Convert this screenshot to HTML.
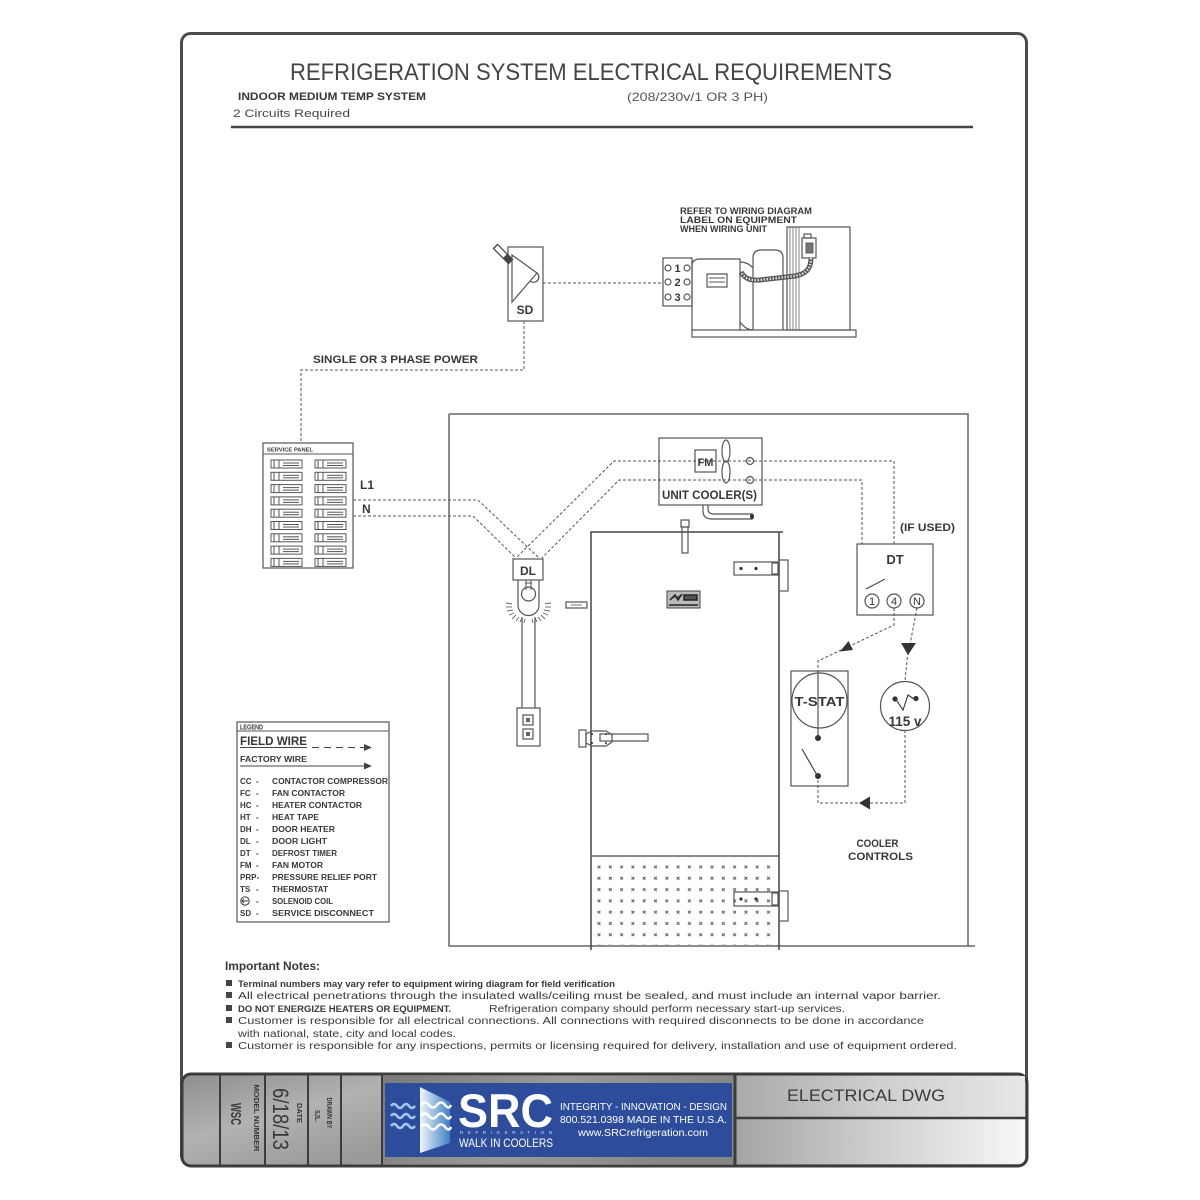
<!DOCTYPE html>
<html><head><meta charset="utf-8"><style>
html,body{margin:0;padding:0;background:#fff;}
svg{display:block;}
text{font-family:"Liberation Sans",Arial,sans-serif;}
.b{font-weight:bold;fill:#383838;}
.w{fill:none;stroke:#555;stroke-width:1;stroke-dasharray:3 2;}
.s{fill:none;stroke:#555;stroke-width:1.2;}
.n{fill:#3a3a3a;}
</style></head><body>
<svg width="1200" height="1200" viewBox="0 0 1200 1200" xmlns="http://www.w3.org/2000/svg">
<defs>
 <linearGradient id="metalL" x1="0" y1="0" x2="1" y2="0.4">
  <stop offset="0" stop-color="#8e8e8e"/><stop offset="0.25" stop-color="#b2b2b2"/>
  <stop offset="0.5" stop-color="#999"/><stop offset="0.75" stop-color="#b8b8b8"/><stop offset="1" stop-color="#a2a2a2"/>
 </linearGradient>
 <linearGradient id="metalD" x1="0" y1="0" x2="1" y2="0.2">
  <stop offset="0" stop-color="#7a7a7a"/><stop offset="0.5" stop-color="#9a9a9a"/><stop offset="1" stop-color="#858585"/>
 </linearGradient>
 <linearGradient id="metalR1" x1="0" y1="0" x2="1" y2="0">
  <stop offset="0" stop-color="#a9a9a9"/><stop offset="0.5" stop-color="#cfcfcf"/><stop offset="1" stop-color="#e6e6e6"/>
 </linearGradient>
 <linearGradient id="metalR2" x1="0" y1="0" x2="1" y2="0">
  <stop offset="0" stop-color="#a4a4a4"/><stop offset="0.5" stop-color="#d0d0d0"/><stop offset="1" stop-color="#f7f7f7"/>
 </linearGradient>
 <linearGradient id="pane" x1="0" y1="0" x2="1" y2="0">
  <stop offset="0" stop-color="#f0f6fc"/><stop offset="1" stop-color="#3f7fc4"/>
 </linearGradient>
 <pattern id="xp" patternUnits="userSpaceOnUse" x="593.3" y="861.3" width="11.3" height="11.3">
  <path d="M4.3 4.3 L7.1 7.1 M7.1 4.3 L4.3 7.1" stroke="#555" stroke-width="0.9"/>
 </pattern>
</defs>

<!-- page frame -->
<rect x="181.5" y="33.5" width="845" height="1131" rx="9" fill="#fff" stroke="#4d4d4d" stroke-width="3"/>

<!-- header -->
<text x="290" y="80" font-size="24" fill="#454545" textLength="602" lengthAdjust="spacingAndGlyphs">REFRIGERATION SYSTEM ELECTRICAL REQUIREMENTS</text>
<text x="238" y="100" font-size="11" class="b" textLength="188" lengthAdjust="spacingAndGlyphs">INDOOR MEDIUM TEMP SYSTEM</text>
<text x="627" y="101" font-size="12" fill="#555" textLength="141" lengthAdjust="spacingAndGlyphs">(208/230v/1 OR 3 PH)</text>
<text x="233" y="117" font-size="11" fill="#444" textLength="117" lengthAdjust="spacingAndGlyphs">2 Circuits Required</text>
<line x1="231" y1="127" x2="973" y2="127" stroke="#444" stroke-width="2.5"/>

<!-- SD switch -->
<rect x="508" y="247" width="35" height="74" class="s" fill="#fff"/>
<path d="M512 255 L537 273 L512 302 Z" class="s"/>
<path d="M530 281 A5 5 0 0 0 537 273" class="s"/>
<line x1="495" y1="246" x2="511" y2="262" stroke="#444" stroke-width="7"/>
<line x1="496" y1="247" x2="505" y2="256" stroke="#fff" stroke-width="4.5"/>
<text x="525" y="314" font-size="12" class="b" text-anchor="middle">SD</text>
<path d="M543 283 L663 283" class="w"/>
<path d="M524 321 L524 370 L301 370 L301 443" class="w"/>
<text x="313" y="363" font-size="11" class="b" textLength="165" lengthAdjust="spacingAndGlyphs">SINGLE OR 3 PHASE POWER</text>

<!-- condensing unit -->
<text x="680" y="214" font-size="9" class="b" textLength="132" lengthAdjust="spacingAndGlyphs">REFER TO WIRING DIAGRAM</text>
<text x="680" y="223" font-size="9" class="b" textLength="117" lengthAdjust="spacingAndGlyphs">LABEL ON EQUIPMENT</text>
<text x="680" y="232" font-size="9" class="b" textLength="87" lengthAdjust="spacingAndGlyphs">WHEN WIRING UNIT</text>
<rect x="663" y="258" width="29" height="48" class="s" fill="#fff"/>
<g class="s"><circle cx="668" cy="268" r="3"/><circle cx="687" cy="268" r="3"/><circle cx="668" cy="282" r="3"/><circle cx="687" cy="282" r="3"/><circle cx="668" cy="297" r="3"/><circle cx="687" cy="297" r="3"/></g>
<g font-size="11" class="b" text-anchor="middle"><text x="677.5" y="272">1</text><text x="677.5" y="286">2</text><text x="677.5" y="301">3</text></g>
<rect x="692" y="330" width="164" height="7" class="s"/>
<path d="M692 330 L692 266 Q692 259 700 259 L740 259 L740 330" class="s" fill="#fff"/>
<path d="M740 262 Q748 262 753 268 M740 322 Q746 330 753 330" class="s"/>
<rect x="707" y="274" width="20" height="13" class="s"/>
<line x1="709" y1="278" x2="725" y2="278" stroke="#555"/><line x1="709" y1="282" x2="725" y2="282" stroke="#555"/>
<path d="M753 330 L753 258 Q753 250 761 250 L775 250 Q783 250 783 258 L783 330" class="s" fill="#fff"/>
<rect x="787" y="227" width="63" height="103" class="s" fill="#fff"/>
<g stroke="#666" stroke-width="0.8"><line x1="790" y1="227" x2="790" y2="330"/><line x1="793" y1="227" x2="793" y2="330"/><line x1="796" y1="227" x2="796" y2="330"/><line x1="799" y1="227" x2="799" y2="330"/></g>
<rect x="802" y="238" width="14" height="20" class="s" fill="#fff"/>
<rect x="804" y="234" width="7" height="4" class="s"/>
<rect x="806" y="243" width="7" height="10" fill="#777" stroke="#444" stroke-width="0.8"/>
<path d="M811 258 C811 270 805 274 795 276 L760 280 C748 281 744 277 741 272" fill="none" stroke="#555" stroke-width="5"/>
<path d="M811 258 C811 270 805 274 795 276 L760 280 C748 281 744 277 741 272" fill="none" stroke="#ddd" stroke-width="2.5" stroke-dasharray="1.5 1.5"/>

<!-- service panel -->
<rect x="263" y="443" width="90" height="125" class="s" fill="#fff"/>
<line x1="263" y1="454" x2="353" y2="454" stroke="#555"/>
<text x="267" y="451.5" font-size="5" class="b" textLength="46" lengthAdjust="spacingAndGlyphs">SERVICE PANEL</text>
<g id="brk" stroke="#555" stroke-width="1" fill="none">
 <rect x="271" y="460" width="31" height="8"/><line x1="279" y1="460" x2="279" y2="468"/><line x1="274" y1="460" x2="274" y2="468"/><line x1="283" y1="463" x2="299" y2="463"/><line x1="283" y1="465.5" x2="299" y2="465.5"/>
 <rect x="315" y="460" width="31" height="8"/><line x1="323" y1="460" x2="323" y2="468"/><line x1="318" y1="460" x2="318" y2="468"/><line x1="327" y1="463" x2="343" y2="463"/><line x1="327" y1="465.5" x2="343" y2="465.5"/>
</g>
<use href="#brk" y="12.3"/><use href="#brk" y="24.6"/><use href="#brk" y="36.9"/><use href="#brk" y="49.2"/>
<use href="#brk" y="61.5"/><use href="#brk" y="73.8"/><use href="#brk" y="86.1"/><use href="#brk" y="98.4"/>
<text x="360" y="489" font-size="12" class="b">L1</text>
<text x="362" y="513" font-size="12" class="b">N</text>

<!-- wall box -->
<path d="M449 414 L968 414 L968 946 M449 414 L449 946 L975 946" fill="none" stroke="#666" stroke-width="1.5"/>

<!-- field wires to DL / cooler -->
<path d="M353 500 L478 500 L539 558" class="w"/>
<path d="M353 516 L473 516 L516 558" class="w"/>
<path d="M751 461 L614 461 L516 558" class="w"/>
<path d="M751 480 L619 480 L542 558" class="w"/>
<path d="M754 461 L894 461 L894 544" class="w"/>
<path d="M754 480 L862 480 L862 544" class="w"/>

<!-- unit cooler -->
<rect x="659" y="438" width="103" height="67" class="s"/>
<rect x="695" y="450" width="21" height="22" class="s"/>
<text x="705.5" y="466" font-size="11" class="b" text-anchor="middle">FM</text>
<ellipse cx="726" cy="451" rx="4" ry="11" class="s"/>
<ellipse cx="726" cy="472" rx="4" ry="11" class="s"/>
<circle cx="750" cy="461" r="3.5" class="s" fill="#fff"/>
<circle cx="750" cy="480" r="3.5" class="s" fill="#fff"/>
<text x="662" y="499" font-size="12" class="b" textLength="95" lengthAdjust="spacingAndGlyphs">UNIT COOLER(S)</text>
<path d="M703 505 L703 511 Q703 519 712 519 L752 519 M708 505 L708 509 Q708 514 714 514 L752 514" class="s"/>
<ellipse cx="752" cy="516.5" rx="2" ry="3" fill="#333"/>

<!-- DT -->
<text x="900" y="531" font-size="11" class="b" textLength="55" lengthAdjust="spacingAndGlyphs">(IF USED)</text>
<rect x="857" y="544" width="76" height="71" class="s" fill="#fff"/>
<text x="895" y="564" font-size="13" class="b" text-anchor="middle">DT</text>
<line x1="866" y1="589" x2="885" y2="579" stroke="#444"/>
<g class="s"><circle cx="872" cy="601" r="7"/><circle cx="894" cy="601" r="7"/><circle cx="917" cy="601" r="7"/></g>
<g font-size="11" fill="#333" text-anchor="middle"><text x="872" y="605">1</text><text x="894" y="605">4</text><text x="917" y="605">N</text></g>
<path d="M894 608 L894 625 L818 661 L818 671" class="w"/>
<path d="M917 608 L907 660 L905 681" class="w"/>
<path d="M840 651.5 L853 650 L848.5 641 Z" fill="#333"/>
<path d="M908 655 L901 643 L916 643 Z" fill="#333"/>
<path d="M905 730 L905 803 L818 803 L818 777" class="w"/>
<path d="M859 803 L870 796.5 L870 809.5 Z" fill="#333"/>

<!-- T-STAT -->
<rect x="791" y="671" width="57" height="115" class="s"/>
<circle cx="819.5" cy="700.5" r="27.5" class="s"/>
<line x1="818" y1="671" x2="818" y2="738" stroke="#555" stroke-width="1.2"/>
<text x="819.5" y="706" font-size="13" class="b" text-anchor="middle" textLength="50" lengthAdjust="spacingAndGlyphs">T-STAT</text>
<circle cx="818" cy="738" r="3" fill="#333"/>
<circle cx="818" cy="776" r="3" fill="#333"/>
<line x1="802" y1="749" x2="817" y2="775" stroke="#444" stroke-width="1.2"/>

<!-- 115v -->
<circle cx="905" cy="706" r="24.5" class="s"/>
<circle cx="895" cy="699" r="2.6" fill="#333"/><circle cx="916" cy="698.5" r="2.6" fill="#333"/>
<path d="M897 701 L903 710 L908 695 L914 699" fill="none" stroke="#333" stroke-width="1.1"/>
<text x="905" y="726" font-size="14" class="b" text-anchor="middle" textLength="33" lengthAdjust="spacingAndGlyphs">115 v</text>
<text x="877.5" y="847" font-size="11" class="b" text-anchor="middle" textLength="42" lengthAdjust="spacingAndGlyphs">COOLER</text>
<text x="880.5" y="860" font-size="11" class="b" text-anchor="middle" textLength="65" lengthAdjust="spacingAndGlyphs">CONTROLS</text>

<!-- DL light -->
<rect x="513" y="559" width="30" height="21" class="s" fill="#fff"/>
<text x="528" y="575" font-size="12" class="b" text-anchor="middle">DL</text>
<path d="M518 580 L518 605 A10.5 10.5 0 0 0 539 605 L539 580" class="s"/>
<circle cx="528.5" cy="594" r="7" class="s"/>
<path d="M526 580 L526 590 M531 580 L531 590 M525 583 L532 583" stroke="#555" stroke-width="1"/>
<g stroke="#666" stroke-width="0.9">
 <line x1="506" y1="603" x2="512" y2="604"/><line x1="506" y1="607" x2="512" y2="607"/><line x1="507" y1="611" x2="513" y2="610"/><line x1="509" y1="615" x2="514" y2="613"/>
 <line x1="512" y1="619" x2="516" y2="615"/><line x1="516" y1="621" x2="519" y2="617"/><line x1="520" y1="622" x2="522" y2="618"/><line x1="524" y1="623" x2="525" y2="619"/>
 <line x1="551" y1="603" x2="545" y2="604"/><line x1="551" y1="607" x2="545" y2="607"/><line x1="550" y1="611" x2="544" y2="610"/><line x1="548" y1="615" x2="543" y2="613"/>
 <line x1="545" y1="619" x2="541" y2="615"/><line x1="541" y1="621" x2="538" y2="617"/><line x1="537" y1="622" x2="535" y2="618"/><line x1="533" y1="623" x2="532" y2="619"/>
</g>
<line x1="522" y1="617" x2="522" y2="708" stroke="#555" stroke-width="1.2"/>
<line x1="535" y1="617" x2="535" y2="708" stroke="#555" stroke-width="1.2"/>
<rect x="517" y="708" width="23" height="38" class="s" fill="#fff"/>
<rect x="523" y="715" width="10" height="10" class="s"/><rect x="523" y="729" width="10" height="10" class="s"/>
<rect x="526" y="718" width="4" height="4" fill="#666"/><rect x="526" y="732" width="4" height="4" fill="#666"/>

<!-- door -->
<rect x="566" y="602" width="21" height="6" class="s"/>
<line x1="571" y1="605" x2="582" y2="605" stroke="#777"/>
<path d="M591 950 L591 532 L783 532 M779 532 L779 950" fill="none" stroke="#444" stroke-width="1.5"/>
<line x1="591" y1="856" x2="779" y2="856" stroke="#444" stroke-width="1.2"/>
<rect x="593" y="857" width="185" height="88" fill="url(#xp)"/>
<rect x="682" y="527" width="6" height="26" class="s" fill="#fff"/>
<rect x="681" y="520" width="8" height="7" class="s" fill="#fff"/>
<rect x="667" y="591" width="33" height="17" fill="#bbb" stroke="#444" stroke-width="1"/>
<path d="M670 600 L675 595 L678 600 L682 594 M684 595 L697 595 L697 600 L684 600 Z M669 605 L698 605" stroke="#222" stroke-width="1.5" fill="#555"/>
<!-- hinges -->
<rect x="734" y="562" width="45" height="13" class="s" fill="#fff"/>
<rect x="772" y="563" width="6" height="11" class="s"/>
<circle cx="741" cy="568.5" r="1.6" fill="#333"/><circle cx="756" cy="568.5" r="1.6" fill="#333"/>
<rect x="779" y="560" width="9" height="31" class="s" fill="#fff"/>
<rect x="734" y="892" width="45" height="14" class="s" fill="#fff"/>
<rect x="772" y="893" width="6" height="12" class="s"/>
<circle cx="741" cy="899" r="1.6" fill="#333"/><circle cx="756" cy="899" r="1.6" fill="#333"/>
<rect x="779" y="891" width="9" height="30" class="s" fill="#fff"/>
<!-- handle -->
<rect x="579" y="730" width="7" height="17" class="s" fill="#fff"/>
<path d="M586 734 L592 731 L606 731 L612 735 L612 742 L606 746 L592 746 L586 743 Z" class="s" fill="#fff"/>
<rect x="600" y="734" width="48" height="7" class="s" fill="#fff"/>
<circle cx="592" cy="734" r="1" fill="#333"/><circle cx="606" cy="734" r="1" fill="#333"/><circle cx="592" cy="743" r="1" fill="#333"/><circle cx="606" cy="743" r="1" fill="#333"/>

<!-- legend -->
<rect x="237" y="722" width="152" height="200" class="s" fill="#fff"/>
<line x1="237" y1="731" x2="389" y2="731" stroke="#555"/>
<text x="240" y="729.5" font-size="7.5" class="b" textLength="23" lengthAdjust="spacingAndGlyphs">LEGEND</text>
<text x="240" y="745" font-size="12" class="b" textLength="67" lengthAdjust="spacingAndGlyphs">FIELD WIRE</text>
<line x1="240" y1="747.5" x2="307" y2="747.5" stroke="#444"/>
<path d="M312 747.5 L366 747.5" stroke="#444" stroke-dasharray="7 5"/>
<path d="M372 747.5 L364 744 L364 751 Z" fill="#444"/>
<text x="240" y="762" font-size="8" class="b" textLength="67" lengthAdjust="spacingAndGlyphs">FACTORY WIRE</text>
<line x1="240" y1="766" x2="366" y2="766" stroke="#444"/>
<path d="M372 766 L364 762.5 L364 769.5 Z" fill="#444"/>
<g font-size="8" class="b">
 <text x="240" y="784">CC</text><text x="256" y="784">-</text><text x="272" y="784" textLength="116" lengthAdjust="spacingAndGlyphs">CONTACTOR COMPRESSOR</text>
 <text x="240" y="796">FC</text><text x="256" y="796">-</text><text x="272" y="796" textLength="73" lengthAdjust="spacingAndGlyphs">FAN CONTACTOR</text>
 <text x="240" y="808">HC</text><text x="256" y="808">-</text><text x="272" y="808" textLength="90" lengthAdjust="spacingAndGlyphs">HEATER CONTACTOR</text>
 <text x="240" y="820">HT</text><text x="256" y="820">-</text><text x="272" y="820" textLength="47" lengthAdjust="spacingAndGlyphs">HEAT TAPE</text>
 <text x="240" y="832">DH</text><text x="256" y="832">-</text><text x="272" y="832" textLength="63" lengthAdjust="spacingAndGlyphs">DOOR HEATER</text>
 <text x="240" y="844">DL</text><text x="256" y="844">-</text><text x="272" y="844" textLength="55" lengthAdjust="spacingAndGlyphs">DOOR LIGHT</text>
 <text x="240" y="856">DT</text><text x="256" y="856">-</text><text x="272" y="856" textLength="65" lengthAdjust="spacingAndGlyphs">DEFROST TIMER</text>
 <text x="240" y="868">FM</text><text x="256" y="868">-</text><text x="272" y="868" textLength="51" lengthAdjust="spacingAndGlyphs">FAN MOTOR</text>
 <text x="240" y="880">PRP-</text><text x="272" y="880" textLength="105" lengthAdjust="spacingAndGlyphs">PRESSURE RELIEF PORT</text>
 <text x="240" y="892">TS</text><text x="256" y="892">-</text><text x="272" y="892" textLength="56" lengthAdjust="spacingAndGlyphs">THERMOSTAT</text>
 <text x="256" y="904">-</text><text x="272" y="904" textLength="61" lengthAdjust="spacingAndGlyphs">SOLENOID COIL</text>
 <text x="240" y="916">SD</text><text x="256" y="916">-</text><text x="272" y="916" textLength="102" lengthAdjust="spacingAndGlyphs">SERVICE DISCONNECT</text>
</g>
<circle cx="245" cy="901" r="4.2" class="s"/>
<path d="M242 901 L248 901 M242 901 L244 899 M242 901 L244 903" stroke="#444" stroke-width="0.9"/>

<!-- notes -->
<text x="225" y="970" font-size="12" class="b" textLength="95" lengthAdjust="spacingAndGlyphs">Important Notes:</text>
<g fill="#444">
 <rect x="226" y="980" width="6" height="6"/><rect x="226" y="992" width="6" height="6"/><rect x="226" y="1005" width="6" height="6"/><rect x="226" y="1017" width="6" height="6"/><rect x="226" y="1042" width="6" height="6"/>
</g>
<text x="238" y="987" font-size="9" class="b" textLength="377" lengthAdjust="spacingAndGlyphs">Terminal numbers may vary refer to equipment wiring diagram for field verification</text>
<g font-size="10" fill="#3a3a3a">
 <text x="238" y="999" textLength="703" lengthAdjust="spacingAndGlyphs">All electrical penetrations through the insulated walls/ceiling must be sealed, and must include an internal vapor barrier.</text>
 <text x="238" y="1012" font-size="9" font-weight="bold" textLength="213" lengthAdjust="spacingAndGlyphs">DO NOT ENERGIZE HEATERS OR EQUIPMENT.</text>
 <text x="489" y="1012" textLength="356" lengthAdjust="spacingAndGlyphs">Refrigeration company should perform necessary start-up services.</text>
 <text x="238" y="1024" textLength="686" lengthAdjust="spacingAndGlyphs">Customer is responsible for all electrical connections.  All connections with required disconnects to be done in accordance</text>
 <text x="238" y="1037" textLength="218" lengthAdjust="spacingAndGlyphs">with national, state, city and local codes.</text>
 <text x="238" y="1049" textLength="719" lengthAdjust="spacingAndGlyphs">Customer is responsible for any inspections, permits or licensing required for delivery, installation and use of equipment ordered.</text>
</g>

<!-- title block -->
<rect x="182" y="1074" width="845" height="92" rx="9" fill="url(#metalL)" stroke="#3c3c3c" stroke-width="3"/>
<rect x="383" y="1076" width="352" height="88" fill="url(#metalD)"/>
<rect x="385" y="1083" width="347" height="74" fill="#2e4c9c"/>
<rect x="736" y="1076" width="289" height="42" fill="url(#metalR1)"/>
<path d="M736 1119 L1025 1119 L1025 1157 Q1025 1164 1018 1164 L736 1164 Z" fill="url(#metalR2)"/>
<g stroke="#3c3c3c" stroke-width="2">
 <line x1="220" y1="1075" x2="220" y2="1165"/><line x1="265" y1="1075" x2="265" y2="1165"/><line x1="308" y1="1075" x2="308" y2="1165"/><line x1="341" y1="1075" x2="341" y2="1165"/><line x1="382" y1="1075" x2="382" y2="1165"/>
</g>
<line x1="735" y1="1075" x2="735" y2="1165" stroke="#3c3c3c" stroke-width="3"/>
<line x1="735" y1="1118" x2="1026" y2="1118" stroke="#3c3c3c" stroke-width="2.5"/>
<text x="787" y="1101" font-size="17" fill="#3a3a3a" textLength="158" lengthAdjust="spacingAndGlyphs">ELECTRICAL DWG</text>
<!-- rotated labels -->
<g class="b" fill="#3a3a3a">
 <text transform="translate(231,1114) rotate(90)" font-size="15" text-anchor="middle" textLength="22" lengthAdjust="spacingAndGlyphs">WSC</text>
 <text transform="translate(254,1118) rotate(90)" font-size="7" text-anchor="middle" textLength="67" lengthAdjust="spacingAndGlyphs">MODEL NUMBER</text>
 <text transform="translate(273,1119) rotate(90)" font-size="22" font-weight="normal" text-anchor="middle" textLength="62" lengthAdjust="spacingAndGlyphs">6/18/13</text>
 <text transform="translate(297,1113) rotate(90)" font-size="7" text-anchor="middle" textLength="20" lengthAdjust="spacingAndGlyphs">DATE</text>
 <text transform="translate(315,1116) rotate(90)" font-size="7" text-anchor="middle" textLength="12" lengthAdjust="spacingAndGlyphs">SJL.</text>
 <text transform="translate(327,1113) rotate(90)" font-size="7" text-anchor="middle" textLength="31" lengthAdjust="spacingAndGlyphs">DRAWN BY</text>
</g>
<!-- logo -->
<g fill="none" stroke="#9ccbee" stroke-width="2.5">
 <path d="M391 1106 q3 -4 6 0 t6 0 t6 0 t6 0"/>
 <path d="M391 1116 q3 -4 6 0 t6 0 t6 0 t6 0"/>
 <path d="M391 1126 q3 -4 6 0 t6 0 t6 0 t6 0"/>
</g>
<path d="M420 1087 L450 1102 L450 1143 L420 1153 Z" fill="url(#pane)"/>
<g fill="none" stroke="#fff" stroke-width="2.5">
 <path d="M421 1105 q4 -5 8 0 t8 0 t8 0 t6 0"/>
 <path d="M421 1116 q4 -5 8 0 t8 0 t8 0 t6 0"/>
 <path d="M421 1127 q4 -5 8 0 t8 0 t8 0 t6 0"/>
</g>
<text x="458" y="1127" font-size="47" font-weight="bold" fill="#fff" textLength="95" lengthAdjust="spacingAndGlyphs">SRC</text>
<text x="460" y="1134" font-size="4.5" fill="#cfe2f5" textLength="92" lengthAdjust="spacing">REFRIGERATION</text>
<text x="459" y="1147" font-size="12" fill="#fff" textLength="94" lengthAdjust="spacingAndGlyphs">WALK IN COOLERS</text>
<text x="560" y="1110" font-size="10.5" fill="#fff" textLength="167" lengthAdjust="spacingAndGlyphs">INTEGRITY - INNOVATION - DESIGN</text>
<text x="560" y="1123" font-size="10.5" fill="#fff" textLength="167" lengthAdjust="spacingAndGlyphs">800.521.0398    MADE IN THE U.S.A.</text>
<text x="578" y="1136" font-size="10.5" fill="#fff" textLength="130" lengthAdjust="spacingAndGlyphs">www.SRCrefrigeration.com</text>
</svg>
</body></html>
